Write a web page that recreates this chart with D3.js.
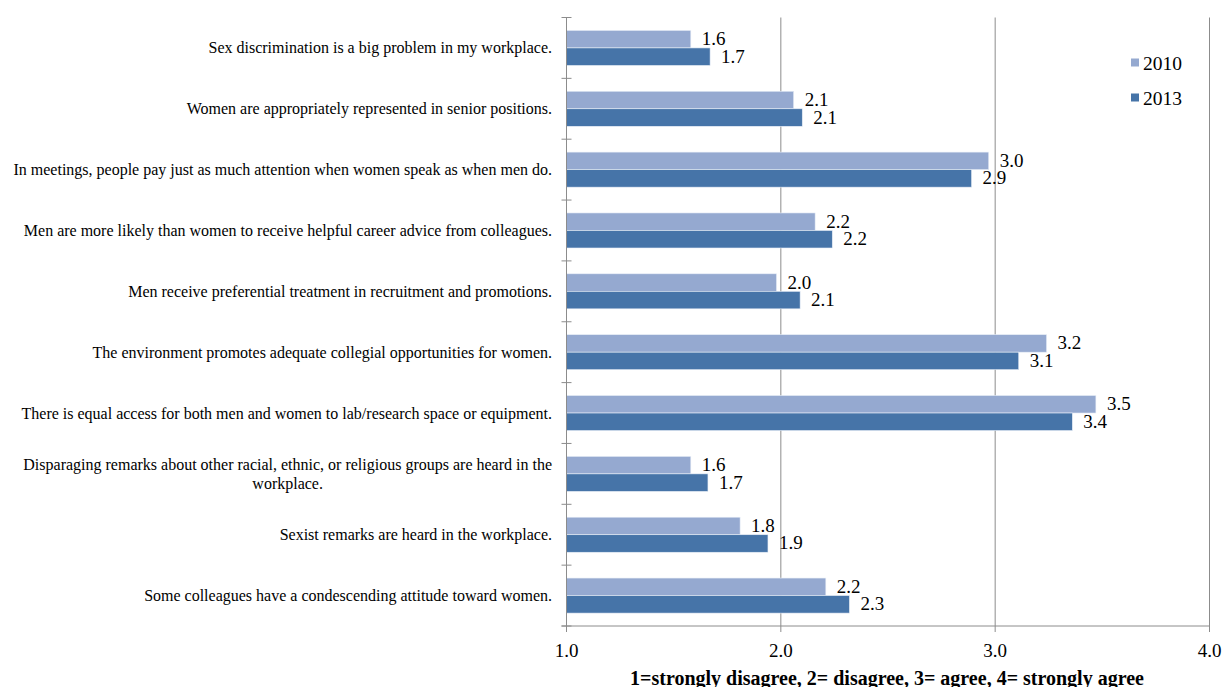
<!DOCTYPE html>
<html><head><meta charset="utf-8">
<script src="https://cdn.jsdelivr.net/npm/d3@7/dist/d3.min.js"></script>
<style>
html,body{margin:0;padding:0;background:#fff;}
svg{display:block;}
</style></head>
<body>
<svg id="chart" width="1225" height="687"></svg>
<script>
const categories = [
  "Sex discrimination is a big problem in my workplace.",
  "Women are appropriately represented in senior positions.",
  "In meetings, people pay just as much attention when women speak as when men do.",
  "Men are more likely than women to receive helpful career advice from colleagues.",
  "Men receive preferential treatment in recruitment and promotions.",
  "The environment promotes adequate collegial opportunities for women.",
  "There is equal access for both men and women to lab/research space or equipment.",
  "Disparaging remarks about other racial, ethnic, or religious groups are heard in the workplace.",
  "Sexist remarks are heard in the workplace.",
  "Some colleagues have a condescending attitude toward women."
];
const seriesNames = ["2010", "2013"];
const values2010 = [1.58, 2.06, 2.97, 2.16, 1.98, 3.24, 3.47, 1.58, 1.81, 2.21];
const values2013 = [1.67, 2.10, 2.89, 2.24, 2.09, 3.11, 3.36, 1.66, 1.94, 2.32];
const xTicks = [1.0, 2.0, 3.0, 4.0];
const axisTitle = "1=strongly disagree, 2= disagree, 3= agree, 4= strongly agree";

const FONT = "'Liberation Serif', 'Times New Roman', Times, serif";
const colors = {"2010": "#95A9D0", "2013": "#4674A8"};
const svg = d3.select("#chart").style("font-family", FONT);
const pLeft = 566.5, pRight = 1209.5, pTop = 17.5, pBottom = 626;

const x = d3.scaleLinear().domain([1, 4]).range([pLeft, pRight]);
const y = d3.scaleBand().domain(categories).range([pTop, pBottom]).padding(0);
const barH = y.bandwidth() * 0.288;

// gridlines
svg.append("g").selectAll("line").data(xTicks.slice(1)).join("line")
  .attr("x1", d => x(d)).attr("x2", d => x(d))
  .attr("y1", pTop).attr("y2", pBottom + 6)
  .attr("stroke", "#8c8c8c").attr("stroke-width", 1);

// bars
const series = [
  {name: "2010", values: values2010, off: -1},
  {name: "2013", values: values2013, off: 0}
];
series.forEach(s => {
  const g = svg.append("g");
  g.selectAll("rect").data(categories).join("rect")
    .attr("x", x(1))
    .attr("y", (c) => y(c) + y.bandwidth()/2 + s.off*barH)
    .attr("width", (c, i) => x(s.values[i]) - x(1))
    .attr("height", barH)
    .attr("fill", colors[s.name])
    .attr("stroke", "#e8eef7").attr("stroke-width", 0.6);
  g.selectAll("text").data(categories).join("text")
    .attr("x", (c, i) => x(s.values[i]) + 11)
    .attr("y", (c) => y(c) + y.bandwidth()/2 + s.off*barH + barH/2 + 6)
    .style("font-family", FONT).attr("font-size", 19).attr("fill", "#000")
    .text((c, i) => s.values[i].toFixed(1));
});

// y axis line + ticks
svg.append("line").attr("x1", pLeft).attr("x2", pLeft).attr("y1", pTop).attr("y2", pBottom + 6)
  .attr("stroke", "#8c8c8c");
svg.append("g").selectAll("line").data(d3.range(categories.length + 1)).join("line")
  .attr("x1", pLeft - 5).attr("x2", pLeft + 5)
  .attr("y1", i => pTop + i * y.step()).attr("y2", i => pTop + i * y.step())
  .attr("stroke", "#8c8c8c");
// x axis
svg.append("line").attr("x1", pLeft - 5).attr("x2", pRight).attr("y1", pBottom).attr("y2", pBottom)
  .attr("stroke", "#8c8c8c");
svg.append("g").selectAll("text").data(xTicks).join("text")
  .attr("x", d => x(d)).attr("y", 657).attr("text-anchor", "middle")
  .style("font-family", FONT).attr("font-size", 19).text(d => d.toFixed(1));
svg.append("text").attr("x", 887).attr("y", 685).attr("text-anchor", "middle")
  .style("font-family", FONT).attr("font-size", 20).attr("font-weight", "bold").text(axisTitle);

// category labels with wrapping
const labelRight = 552, maxW = 545, fs = 16, lh = 18.5;
categories.forEach(c => {
  const t = svg.append("text").style("font-family", FONT).attr("font-size", fs).attr("fill", "#000");
  const words = c.split(" ");
  let lines = [], cur = [];
  const probe = svg.append("text").style("font-family", FONT).attr("font-size", fs);
  words.forEach(w => {
    const test = cur.concat([w]).join(" ");
    probe.text(test);
    if (probe.node().getComputedTextLength() > maxW && cur.length) {
      lines.push(cur.join(" ")); cur = [w];
    } else cur.push(w);
  });
  lines.push(cur.join(" "));
  const widths = lines.map(l => { probe.text(l); return probe.node().getComputedTextLength(); });
  probe.remove();
  const wmax = d3.max(widths);
  const cx = labelRight - wmax / 2;
  const cy = y(c) + y.bandwidth()/2;
  const y0 = cy - (lines.length - 1) * lh / 2 + 5.5;
  lines.forEach((l, i) => {
    t.append("tspan").attr("x", cx).attr("y", y0 + i * lh).attr("text-anchor", "middle").text(l);
  });
});

// legend
const lg = svg.append("g");
seriesNames.forEach((n, i) => {
  lg.append("rect").attr("x", 1131).attr("y", 58.5 + i * 35).attr("width", 8).attr("height", 8)
    .attr("fill", colors[n]);
  lg.append("text").attr("x", 1143).attr("y", 70 + i * 35).style("font-family", FONT)
    .attr("font-size", 19.5).text(n);
});
</script>
</body></html>
